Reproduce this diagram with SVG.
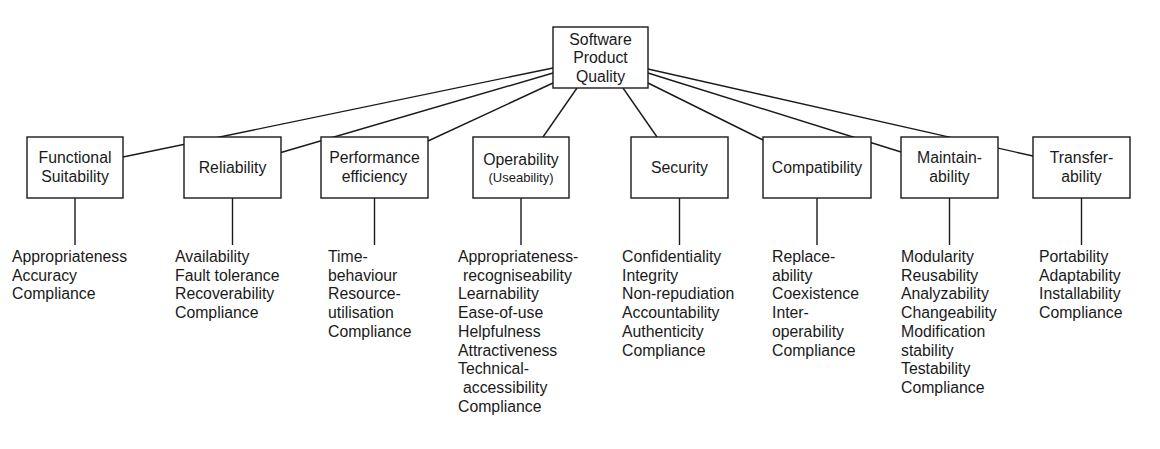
<svg xmlns="http://www.w3.org/2000/svg" width="1160" height="449" viewBox="0 0 1160 449">
<style>
.bg{fill:#fff}
.box{fill:#fff;stroke:#1a1a1a;stroke-width:1.4}
.ln{stroke:#1a1a1a;stroke-width:1.4;fill:none}
text{font-family:"Liberation Sans",Arial,sans-serif;font-size:15.8px;fill:#1a1a1a}
.c{text-anchor:middle}
.sm{font-size:13px}
</style>
<rect class="bg" x="0" y="0" width="1160" height="449"/>
<g id="connectors">
<line class="ln" x1="553" y1="68" x2="123" y2="157"/>
<line class="ln" x1="553" y1="73" x2="281" y2="152.5"/>
<line class="ln" x1="553" y1="83" x2="428" y2="141"/>
<line class="ln" x1="577" y1="88" x2="543" y2="137"/>
<line class="ln" x1="623" y1="88" x2="657" y2="137"/>
<line class="ln" x1="648" y1="83" x2="763" y2="140"/>
<line class="ln" x1="648" y1="73" x2="901" y2="152"/>
<line class="ln" x1="648" y1="69" x2="1033" y2="156"/>
<line class="ln" x1="75" y1="198" x2="75" y2="245"/>
<line class="ln" x1="232.5" y1="198" x2="232.5" y2="245"/>
<line class="ln" x1="374.5" y1="198" x2="374.5" y2="245"/>
<line class="ln" x1="521" y1="198" x2="521" y2="245"/>
<line class="ln" x1="679.5" y1="198" x2="679.5" y2="245"/>
<line class="ln" x1="817" y1="198" x2="817" y2="245"/>
<line class="ln" x1="949.5" y1="198" x2="949.5" y2="245"/>
<line class="ln" x1="1081.5" y1="198" x2="1081.5" y2="245"/>
</g>
<g id="root">
<rect class="box" x="553" y="27" width="95" height="61"/>
<text class="c" x="600.5" y="44.5">Software</text>
<text class="c" x="600.5" y="63">Product</text>
<text class="c" x="600.5" y="81.5">Quality</text>
</g>
<g id="functional">
<rect class="box" x="27" y="137" width="96" height="61"/>
<text class="c" x="75" y="163">Functional</text>
<text class="c" x="75" y="182">Suitability</text>
<text x="12" y="262"><tspan x="12">Appropriateness</tspan><tspan x="12" dy="18.7">Accuracy</tspan><tspan x="12" dy="18.7">Compliance</tspan></text>
</g>
<g id="reliability">
<rect class="box" x="184" y="137" width="97" height="61"/>
<text class="c" x="232.5" y="173">Reliability</text>
<text x="175" y="262"><tspan x="175">Availability</tspan><tspan x="175" dy="18.7">Fault tolerance</tspan><tspan x="175" dy="18.7">Recoverability</tspan><tspan x="175" dy="18.7">Compliance</tspan></text>
</g>
<g id="performance">
<rect class="box" x="321" y="137" width="107" height="61"/>
<text class="c" x="374.5" y="163">Performance</text>
<text class="c" x="374.5" y="182">efficiency</text>
<text x="328" y="262"><tspan x="328">Time-</tspan><tspan x="328" dy="18.7">behaviour</tspan><tspan x="328" dy="18.7">Resource-</tspan><tspan x="328" dy="18.7">utilisation</tspan><tspan x="328" dy="18.7">Compliance</tspan></text>
</g>
<g id="operability">
<rect class="box" x="473" y="137" width="96" height="61"/>
<text class="c" x="521" y="165">Operability</text>
<text class="c sm" x="521" y="182">(Useability)</text>
<text x="458" y="262"><tspan x="458">Appropriateness-</tspan><tspan x="463" dy="18.7">recogniseability</tspan><tspan x="458" dy="18.7">Learnability</tspan><tspan x="458" dy="18.7">Ease-of-use</tspan><tspan x="458" dy="18.7">Helpfulness</tspan><tspan x="458" dy="18.7">Attractiveness</tspan><tspan x="458" dy="18.7">Technical-</tspan><tspan x="463" dy="18.7">accessibility</tspan><tspan x="458" dy="18.7">Compliance</tspan></text>
</g>
<g id="security">
<rect class="box" x="631" y="137" width="97" height="61"/>
<text class="c" x="679.5" y="173">Security</text>
<text x="622" y="262"><tspan x="622">Confidentiality</tspan><tspan x="622" dy="18.7">Integrity</tspan><tspan x="622" dy="18.7">Non-repudiation</tspan><tspan x="622" dy="18.7">Accountability</tspan><tspan x="622" dy="18.7">Authenticity</tspan><tspan x="622" dy="18.7">Compliance</tspan></text>
</g>
<g id="compatibility">
<rect class="box" x="763" y="137" width="108" height="61"/>
<text class="c" x="817" y="173">Compatibility</text>
<text x="772" y="262"><tspan x="772">Replace-</tspan><tspan x="772" dy="18.7">ability</tspan><tspan x="772" dy="18.7">Coexistence</tspan><tspan x="772" dy="18.7">Inter-</tspan><tspan x="772" dy="18.7">operability</tspan><tspan x="772" dy="18.7">Compliance</tspan></text>
</g>
<g id="maintainability">
<rect class="box" x="901" y="137" width="97" height="61"/>
<text class="c" x="949.5" y="163">Maintain-</text>
<text class="c" x="949.5" y="182">ability</text>
<text x="901" y="262"><tspan x="901">Modularity</tspan><tspan x="901" dy="18.7">Reusability</tspan><tspan x="901" dy="18.7">Analyzability</tspan><tspan x="901" dy="18.7">Changeability</tspan><tspan x="901" dy="18.7">Modification</tspan><tspan x="901" dy="18.7">stability</tspan><tspan x="901" dy="18.7">Testability</tspan><tspan x="901" dy="18.7">Compliance</tspan></text>
</g>
<g id="transferability">
<rect class="box" x="1033" y="137" width="97" height="61"/>
<text class="c" x="1081.5" y="163">Transfer-</text>
<text class="c" x="1081.5" y="182">ability</text>
<text x="1039" y="262"><tspan x="1039">Portability</tspan><tspan x="1039" dy="18.7">Adaptability</tspan><tspan x="1039" dy="18.7">Installability</tspan><tspan x="1039" dy="18.7">Compliance</tspan></text>
</g>
</svg>
